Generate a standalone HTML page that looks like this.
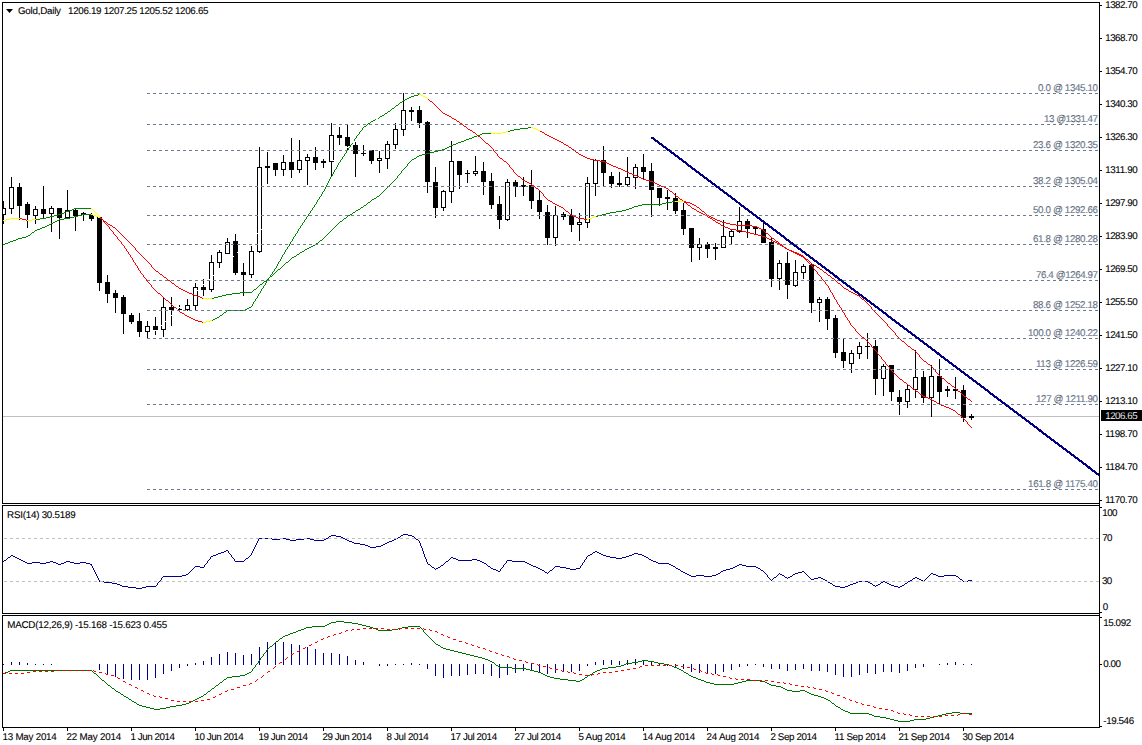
<!DOCTYPE html><html><head><meta charset="utf-8"><title>Gold Daily</title>
<style>html,body{margin:0;padding:0;background:#fff;overflow:hidden}svg{display:block}text{font-family:"Liberation Sans",sans-serif;font-size:9.8px;stroke:#000;stroke-width:.1px}</style></head><body>
<svg width="1142" height="745" viewBox="0 0 1142 745">
<rect width="1142" height="745" fill="#fff"/>
<g shape-rendering="crispEdges">
<line x1="3" x2="1099" y1="416.5" y2="416.5" stroke="#c0c0c0" stroke-width="1"/>
<clipPath id="mc"><rect x="3" y="3" width="1096" height="500"/></clipPath>
<g fill="#000" clip-path="url(#mc)">
<rect x="3" y="201" width="1" height="23"/>
<rect x="1" y="208" width="5" height="7"/>
<rect x="2" y="209" width="3" height="5" fill="#fff"/>
<rect x="11" y="177" width="1" height="37"/>
<rect x="9" y="187" width="5" height="22"/>
<rect x="10" y="188" width="3" height="20" fill="#fff"/>
<rect x="19" y="183" width="1" height="37"/>
<rect x="17" y="187" width="5" height="19"/>
<rect x="27" y="202" width="1" height="26"/>
<rect x="25" y="204" width="5" height="11"/>
<rect x="35" y="206" width="1" height="18"/>
<rect x="33" y="209" width="5" height="7"/>
<rect x="34" y="210" width="3" height="5" fill="#fff"/>
<rect x="43" y="186" width="1" height="33"/>
<rect x="41" y="209" width="5" height="5"/>
<rect x="51" y="206" width="1" height="26"/>
<rect x="49" y="208" width="5" height="6"/>
<rect x="50" y="209" width="3" height="4" fill="#fff"/>
<rect x="59" y="208" width="1" height="31"/>
<rect x="57" y="208" width="5" height="10"/>
<rect x="67" y="190" width="1" height="28"/>
<rect x="65" y="210" width="5" height="8"/>
<rect x="66" y="211" width="3" height="6" fill="#fff"/>
<rect x="75" y="209" width="1" height="22"/>
<rect x="73" y="210" width="5" height="6"/>
<rect x="83" y="212" width="1" height="9"/>
<rect x="81" y="213" width="5" height="2"/>
<rect x="91" y="213" width="1" height="8"/>
<rect x="89" y="215" width="5" height="4"/>
<rect x="99" y="216" width="1" height="75"/>
<rect x="97" y="217" width="5" height="66"/>
<rect x="107" y="275" width="1" height="28"/>
<rect x="105" y="282" width="5" height="12"/>
<rect x="115" y="290" width="1" height="23"/>
<rect x="113" y="293" width="5" height="5"/>
<rect x="123" y="295" width="1" height="39"/>
<rect x="121" y="297" width="5" height="17"/>
<rect x="131" y="313" width="1" height="11"/>
<rect x="129" y="315" width="5" height="7"/>
<rect x="139" y="313" width="1" height="24"/>
<rect x="137" y="321" width="5" height="11"/>
<rect x="147" y="321" width="1" height="18"/>
<rect x="145" y="326" width="5" height="6"/>
<rect x="146" y="327" width="3" height="4" fill="#fff"/>
<rect x="155" y="317" width="1" height="18"/>
<rect x="153" y="326" width="5" height="4"/>
<rect x="163" y="298" width="1" height="39"/>
<rect x="161" y="307" width="5" height="23"/>
<rect x="162" y="308" width="3" height="21" fill="#fff"/>
<rect x="171" y="297" width="1" height="29"/>
<rect x="169" y="307" width="5" height="3"/>
<rect x="179" y="305" width="1" height="7"/>
<rect x="177" y="309" width="5" height="1"/>
<rect x="187" y="299" width="1" height="12"/>
<rect x="185" y="305" width="5" height="5"/>
<rect x="186" y="306" width="3" height="3" fill="#fff"/>
<rect x="195" y="283" width="1" height="27"/>
<rect x="193" y="287" width="5" height="19"/>
<rect x="194" y="288" width="3" height="17" fill="#fff"/>
<rect x="203" y="279" width="1" height="17"/>
<rect x="201" y="287" width="5" height="3"/>
<rect x="211" y="255" width="1" height="37"/>
<rect x="209" y="262" width="5" height="28"/>
<rect x="210" y="263" width="3" height="26" fill="#fff"/>
<rect x="219" y="250" width="1" height="18"/>
<rect x="217" y="252" width="5" height="11"/>
<rect x="218" y="253" width="3" height="9" fill="#fff"/>
<rect x="227" y="238" width="1" height="16"/>
<rect x="225" y="242" width="5" height="12"/>
<rect x="226" y="243" width="3" height="10" fill="#fff"/>
<rect x="235" y="234" width="1" height="41"/>
<rect x="233" y="241" width="5" height="32"/>
<rect x="243" y="263" width="1" height="33"/>
<rect x="241" y="272" width="5" height="3"/>
<rect x="251" y="246" width="1" height="32"/>
<rect x="249" y="251" width="5" height="24"/>
<rect x="250" y="252" width="3" height="22" fill="#fff"/>
<rect x="259" y="147" width="1" height="106"/>
<rect x="257" y="167" width="5" height="85"/>
<rect x="258" y="168" width="3" height="83" fill="#fff"/>
<rect x="267" y="152" width="1" height="32"/>
<rect x="265" y="166" width="5" height="2"/>
<rect x="275" y="163" width="1" height="13"/>
<rect x="273" y="163" width="5" height="7"/>
<rect x="283" y="155" width="1" height="21"/>
<rect x="281" y="162" width="5" height="8"/>
<rect x="282" y="163" width="3" height="6" fill="#fff"/>
<rect x="291" y="138" width="1" height="40"/>
<rect x="289" y="162" width="5" height="8"/>
<rect x="299" y="140" width="1" height="33"/>
<rect x="297" y="160" width="5" height="10"/>
<rect x="298" y="161" width="3" height="8" fill="#fff"/>
<rect x="307" y="154" width="1" height="31"/>
<rect x="305" y="157" width="5" height="4"/>
<rect x="306" y="158" width="3" height="2" fill="#fff"/>
<rect x="315" y="147" width="1" height="23"/>
<rect x="313" y="157" width="5" height="6"/>
<rect x="323" y="159" width="1" height="9"/>
<rect x="321" y="161" width="5" height="2"/>
<rect x="331" y="123" width="1" height="53"/>
<rect x="329" y="135" width="5" height="27"/>
<rect x="330" y="136" width="3" height="25" fill="#fff"/>
<rect x="339" y="127" width="1" height="18"/>
<rect x="337" y="135" width="5" height="3"/>
<rect x="347" y="125" width="1" height="26"/>
<rect x="345" y="137" width="5" height="9"/>
<rect x="355" y="142" width="1" height="35"/>
<rect x="353" y="145" width="5" height="9"/>
<rect x="363" y="145" width="1" height="11"/>
<rect x="361" y="153" width="5" height="1"/>
<rect x="371" y="150" width="1" height="14"/>
<rect x="369" y="150" width="5" height="11"/>
<rect x="379" y="151" width="1" height="22"/>
<rect x="377" y="158" width="5" height="3"/>
<rect x="378" y="159" width="3" height="1" fill="#fff"/>
<rect x="387" y="141" width="1" height="28"/>
<rect x="385" y="144" width="5" height="15"/>
<rect x="386" y="145" width="3" height="13" fill="#fff"/>
<rect x="395" y="123" width="1" height="26"/>
<rect x="393" y="129" width="5" height="16"/>
<rect x="394" y="130" width="3" height="14" fill="#fff"/>
<rect x="403" y="93" width="1" height="43"/>
<rect x="401" y="110" width="5" height="20"/>
<rect x="402" y="111" width="3" height="18" fill="#fff"/>
<rect x="411" y="107" width="1" height="14"/>
<rect x="409" y="110" width="5" height="2"/>
<rect x="419" y="106" width="1" height="22"/>
<rect x="417" y="110" width="5" height="13"/>
<rect x="427" y="121" width="1" height="72"/>
<rect x="425" y="122" width="5" height="60"/>
<rect x="435" y="167" width="1" height="51"/>
<rect x="433" y="182" width="5" height="26"/>
<rect x="443" y="190" width="1" height="21"/>
<rect x="441" y="191" width="5" height="17"/>
<rect x="442" y="192" width="3" height="15" fill="#fff"/>
<rect x="451" y="141" width="1" height="62"/>
<rect x="449" y="161" width="5" height="31"/>
<rect x="450" y="162" width="3" height="29" fill="#fff"/>
<rect x="459" y="161" width="1" height="28"/>
<rect x="457" y="161" width="5" height="14"/>
<rect x="467" y="170" width="1" height="13"/>
<rect x="465" y="173" width="5" height="1"/>
<rect x="475" y="156" width="1" height="20"/>
<rect x="473" y="171" width="5" height="3"/>
<rect x="474" y="172" width="3" height="1" fill="#fff"/>
<rect x="483" y="162" width="1" height="33"/>
<rect x="481" y="171" width="5" height="11"/>
<rect x="491" y="173" width="1" height="36"/>
<rect x="489" y="181" width="5" height="24"/>
<rect x="499" y="196" width="1" height="33"/>
<rect x="497" y="204" width="5" height="16"/>
<rect x="507" y="179" width="1" height="42"/>
<rect x="505" y="182" width="5" height="38"/>
<rect x="506" y="183" width="3" height="36" fill="#fff"/>
<rect x="515" y="180" width="1" height="17"/>
<rect x="513" y="182" width="5" height="5"/>
<rect x="523" y="177" width="1" height="19"/>
<rect x="521" y="185" width="5" height="2"/>
<rect x="531" y="170" width="1" height="39"/>
<rect x="529" y="185" width="5" height="16"/>
<rect x="539" y="191" width="1" height="28"/>
<rect x="537" y="200" width="5" height="12"/>
<rect x="547" y="205" width="1" height="40"/>
<rect x="545" y="212" width="5" height="26"/>
<rect x="555" y="206" width="1" height="40"/>
<rect x="553" y="215" width="5" height="23"/>
<rect x="554" y="216" width="3" height="21" fill="#fff"/>
<rect x="563" y="212" width="1" height="8"/>
<rect x="561" y="214" width="5" height="3"/>
<rect x="571" y="209" width="1" height="23"/>
<rect x="569" y="215" width="5" height="10"/>
<rect x="579" y="213" width="1" height="28"/>
<rect x="577" y="222" width="5" height="3"/>
<rect x="578" y="223" width="3" height="1" fill="#fff"/>
<rect x="587" y="177" width="1" height="51"/>
<rect x="585" y="183" width="5" height="40"/>
<rect x="586" y="184" width="3" height="38" fill="#fff"/>
<rect x="595" y="159" width="1" height="37"/>
<rect x="593" y="160" width="5" height="24"/>
<rect x="594" y="161" width="3" height="22" fill="#fff"/>
<rect x="603" y="146" width="1" height="41"/>
<rect x="601" y="160" width="5" height="13"/>
<rect x="611" y="172" width="1" height="16"/>
<rect x="609" y="176" width="5" height="8"/>
<rect x="619" y="172" width="1" height="15"/>
<rect x="617" y="183" width="5" height="2"/>
<rect x="627" y="157" width="1" height="30"/>
<rect x="625" y="177" width="5" height="8"/>
<rect x="626" y="178" width="3" height="6" fill="#fff"/>
<rect x="635" y="164" width="1" height="25"/>
<rect x="633" y="167" width="5" height="11"/>
<rect x="634" y="168" width="3" height="9" fill="#fff"/>
<rect x="643" y="154" width="1" height="25"/>
<rect x="641" y="167" width="5" height="5"/>
<rect x="651" y="163" width="1" height="54"/>
<rect x="649" y="171" width="5" height="19"/>
<rect x="659" y="188" width="1" height="18"/>
<rect x="657" y="188" width="5" height="10"/>
<rect x="667" y="190" width="1" height="20"/>
<rect x="665" y="197" width="5" height="2"/>
<rect x="675" y="193" width="1" height="21"/>
<rect x="673" y="198" width="5" height="13"/>
<rect x="683" y="203" width="1" height="32"/>
<rect x="681" y="210" width="5" height="19"/>
<rect x="691" y="228" width="1" height="34"/>
<rect x="689" y="228" width="5" height="20"/>
<rect x="699" y="238" width="1" height="22"/>
<rect x="697" y="244" width="5" height="4"/>
<rect x="698" y="245" width="3" height="2" fill="#fff"/>
<rect x="707" y="242" width="1" height="16"/>
<rect x="705" y="244" width="5" height="5"/>
<rect x="715" y="243" width="1" height="17"/>
<rect x="713" y="247" width="5" height="2"/>
<rect x="723" y="220" width="1" height="28"/>
<rect x="721" y="236" width="5" height="12"/>
<rect x="722" y="237" width="3" height="10" fill="#fff"/>
<rect x="731" y="229" width="1" height="15"/>
<rect x="729" y="231" width="5" height="6"/>
<rect x="730" y="232" width="3" height="4" fill="#fff"/>
<rect x="739" y="207" width="1" height="26"/>
<rect x="737" y="221" width="5" height="11"/>
<rect x="738" y="222" width="3" height="9" fill="#fff"/>
<rect x="747" y="219" width="1" height="19"/>
<rect x="745" y="221" width="5" height="8"/>
<rect x="755" y="226" width="1" height="8"/>
<rect x="753" y="227" width="5" height="2"/>
<rect x="763" y="222" width="1" height="21"/>
<rect x="761" y="229" width="5" height="14"/>
<rect x="771" y="237" width="1" height="50"/>
<rect x="769" y="242" width="5" height="37"/>
<rect x="779" y="260" width="1" height="30"/>
<rect x="777" y="263" width="5" height="16"/>
<rect x="778" y="264" width="3" height="14" fill="#fff"/>
<rect x="787" y="252" width="1" height="47"/>
<rect x="785" y="263" width="5" height="22"/>
<rect x="795" y="260" width="1" height="27"/>
<rect x="793" y="272" width="5" height="14"/>
<rect x="794" y="273" width="3" height="12" fill="#fff"/>
<rect x="803" y="264" width="1" height="15"/>
<rect x="801" y="266" width="5" height="7"/>
<rect x="802" y="267" width="3" height="5" fill="#fff"/>
<rect x="811" y="264" width="1" height="49"/>
<rect x="809" y="265" width="5" height="38"/>
<rect x="819" y="297" width="1" height="25"/>
<rect x="817" y="299" width="5" height="4"/>
<rect x="818" y="300" width="3" height="2" fill="#fff"/>
<rect x="827" y="297" width="1" height="33"/>
<rect x="825" y="299" width="5" height="20"/>
<rect x="835" y="315" width="1" height="43"/>
<rect x="833" y="318" width="5" height="35"/>
<rect x="843" y="338" width="1" height="30"/>
<rect x="841" y="352" width="5" height="9"/>
<rect x="851" y="350" width="1" height="23"/>
<rect x="849" y="353" width="5" height="11"/>
<rect x="850" y="354" width="3" height="9" fill="#fff"/>
<rect x="859" y="342" width="1" height="17"/>
<rect x="857" y="346" width="5" height="8"/>
<rect x="858" y="347" width="3" height="6" fill="#fff"/>
<rect x="867" y="333" width="1" height="26"/>
<rect x="865" y="346" width="5" height="1"/>
<rect x="875" y="340" width="1" height="55"/>
<rect x="873" y="346" width="5" height="33"/>
<rect x="883" y="364" width="1" height="32"/>
<rect x="881" y="366" width="5" height="13"/>
<rect x="882" y="367" width="3" height="11" fill="#fff"/>
<rect x="891" y="365" width="1" height="36"/>
<rect x="889" y="365" width="5" height="27"/>
<rect x="899" y="390" width="1" height="25"/>
<rect x="897" y="397" width="5" height="5"/>
<rect x="907" y="384" width="1" height="24"/>
<rect x="905" y="389" width="5" height="13"/>
<rect x="906" y="390" width="3" height="11" fill="#fff"/>
<rect x="915" y="350" width="1" height="48"/>
<rect x="913" y="377" width="5" height="13"/>
<rect x="914" y="378" width="3" height="11" fill="#fff"/>
<rect x="923" y="371" width="1" height="32"/>
<rect x="921" y="377" width="5" height="21"/>
<rect x="931" y="365" width="1" height="52"/>
<rect x="929" y="376" width="5" height="22"/>
<rect x="930" y="377" width="3" height="20" fill="#fff"/>
<rect x="939" y="359" width="1" height="46"/>
<rect x="937" y="376" width="5" height="16"/>
<rect x="947" y="386" width="1" height="11"/>
<rect x="945" y="389" width="5" height="2"/>
<rect x="955" y="377" width="1" height="22"/>
<rect x="953" y="389" width="5" height="2"/>
<rect x="963" y="385" width="1" height="37"/>
<rect x="961" y="390" width="5" height="28"/>
<rect x="971" y="414" width="1" height="6"/>
<rect x="969" y="416" width="5" height="2"/>
</g>
<path d="M528 127.5h4M520 128.5h8M514 129.5h6M510 130.5h4M507 131.5h3M482 133.5h10M480 134.5h2M477 135.5h3M474 136.5h3M472 137.5h2M469 138.5h3M466 139.5h3M464 140.5h2M461 141.5h3M458 142.5h3M456 143.5h2M453 144.5h3M451 145.5h2M449 146.5h2M447 147.5h2M445 148.5h2M442 149.5h3M438 150.5h4M434 151.5h4M430 152.5h4M426 153.5h4M422 154.5h4M419 155.5h3M417 156.5h2M416 157.5h1M414 158.5h2M412 159.5h2M411 160.5h1M410 161.5h1M409 162.5h1M408 163.5h1M407 164.5h1M407 165.5h1M406 166.5h1M405 167.5h1M404 168.5h1M403 169.5h1M402 170.5h1M401 171.5h1M401 172.5h1M400 173.5h1M399 174.5h1M398 175.5h1M397 176.5h1M397 177.5h1M396 178.5h1M395 179.5h1M394 180.5h1M393 181.5h1M392 182.5h1M391 183.5h1M390 184.5h1M389 185.5h1M388 186.5h1M387 187.5h1M386 188.5h1M385 189.5h1M384 190.5h1M383 191.5h1M382 192.5h1M381 193.5h1M380 194.5h1M379 195.5h1M377 196.5h2M376 197.5h1M374 198.5h2M372 199.5h2M371 200.5h1M370 201.5h1M368 202.5h2M367 203.5h1M366 204.5h1M364 205.5h2M363 206.5h1M361 207.5h2M360 208.5h1M358 209.5h2M356 210.5h2M355 211.5h1M353 212.5h2M352 213.5h1M82 214.5h10M350 214.5h2M78 215.5h4M348 215.5h2M74 216.5h4M347 216.5h1M70 217.5h4M346 217.5h1M64 218.5h6M344 218.5h2M59 219.5h5M343 219.5h1M57 220.5h2M342 220.5h1M55 221.5h2M340 221.5h2M53 222.5h2M339 222.5h1M51 223.5h2M338 223.5h1M49 224.5h2M337 224.5h1M47 225.5h2M336 225.5h1M45 226.5h2M335 226.5h1M42 227.5h3M334 227.5h1M40 228.5h2M333 228.5h1M37 229.5h3M332 229.5h1M35 230.5h2M331 230.5h1M34 231.5h1M330 231.5h1M32 232.5h2M329 232.5h1M31 233.5h1M328 233.5h1M30 234.5h1M327 234.5h1M28 235.5h2M326 235.5h1M26 236.5h2M325 236.5h1M22 237.5h4M324 237.5h1M18 238.5h4M323 238.5h1M16 239.5h2M322 239.5h1M13 240.5h3M320 240.5h2M10 241.5h3M319 241.5h1M8 242.5h2M318 242.5h1M5 243.5h3M316 243.5h2M3 244.5h2M315 244.5h1M313 245.5h2M311 246.5h2M309 247.5h2M307 248.5h2M305 249.5h2M304 250.5h1M302 251.5h2M300 252.5h2M299 253.5h1M297 254.5h2M296 255.5h1M294 256.5h2M292 257.5h2M291 258.5h1M290 259.5h1M289 260.5h1M288 261.5h1M286 262.5h2M285 263.5h1M284 264.5h1M283 265.5h1M282 266.5h1M281 267.5h1M280 268.5h1M278 269.5h2M277 270.5h1M276 271.5h1M275 272.5h1M274 273.5h1M273 274.5h1M272 275.5h1M270 276.5h2M269 277.5h1M268 278.5h1M267 279.5h1M266 280.5h1M264 281.5h2M263 282.5h1M262 283.5h1M260 284.5h2M259 285.5h1M258 286.5h1M257 287.5h1M256 288.5h1M254 289.5h2M253 290.5h1M252 291.5h1M240 292.5h12M232 293.5h8M226 294.5h6M222 295.5h4M218 296.5h4M214 297.5h4M211 298.5h3" stroke="#008400" stroke-width="1" fill="none"/>
<path d="M539 130.5h1M540 131.5h2M542 132.5h2M544 133.5h1M545 134.5h2M547 135.5h2M549 136.5h2M551 137.5h2M553 138.5h2M555 139.5h2M557 140.5h2M559 141.5h2M561 142.5h2M563 143.5h1M564 144.5h2M566 145.5h2M568 146.5h1M569 147.5h2M571 148.5h1M572 149.5h2M574 150.5h1M575 151.5h1M576 152.5h2M578 153.5h1M579 154.5h2M581 155.5h2M583 156.5h2M585 157.5h2M587 158.5h3M590 159.5h4M594 160.5h6M600 161.5h5M605 162.5h2M607 163.5h2M609 164.5h2M611 165.5h2M613 166.5h3M616 167.5h2M618 168.5h3M621 169.5h2M623 170.5h2M625 171.5h2M627 172.5h2M629 173.5h3M632 174.5h2M634 175.5h3M637 176.5h2M639 177.5h2M641 178.5h2M643 179.5h3M646 180.5h4M650 181.5h3M653 182.5h2M655 183.5h2M657 184.5h2M659 185.5h2M661 186.5h3M664 187.5h2M666 188.5h2M668 189.5h1M669 190.5h1M670 191.5h2M672 192.5h1M673 193.5h1M674 194.5h1M675 195.5h1M676 196.5h2M678 197.5h1M679 198.5h1M680 199.5h2M682 200.5h1M683 201.5h3M686 202.5h4M690 203.5h2M692 204.5h2M694 205.5h2M696 206.5h1M697 207.5h2M699 208.5h1M700 209.5h1M701 210.5h1M702 211.5h2M704 212.5h1M705 213.5h1M706 214.5h1M707 215.5h2M709 216.5h2M99 217.5h1M711 217.5h2M100 218.5h2M713 218.5h2M102 219.5h1M715 219.5h2M103 220.5h1M717 220.5h3M104 221.5h2M720 221.5h2M106 222.5h1M722 222.5h4M107 223.5h1M726 223.5h4M108 224.5h2M730 224.5h6M110 225.5h2M736 225.5h16M112 226.5h1M752 226.5h5M113 227.5h2M757 227.5h2M115 228.5h1M759 228.5h2M116 229.5h1M761 229.5h2M117 230.5h1M763 230.5h1M118 231.5h1M764 231.5h1M119 232.5h1M765 232.5h1M120 233.5h1M766 233.5h2M121 234.5h1M768 234.5h1M122 235.5h1M769 235.5h1M123 236.5h1M770 236.5h1M124 237.5h1M771 237.5h1M125 238.5h1M772 238.5h2M126 239.5h1M774 239.5h1M127 240.5h1M775 240.5h1M128 241.5h1M776 241.5h2M129 242.5h1M778 242.5h1M130 243.5h1M779 243.5h1M131 244.5h1M780 244.5h2M132 245.5h1M782 245.5h1M133 246.5h1M783 246.5h1M134 247.5h1M784 247.5h2M135 248.5h1M786 248.5h1M135 249.5h1M787 249.5h2M136 250.5h1M789 250.5h3M137 251.5h1M792 251.5h2M138 252.5h1M794 252.5h3M139 253.5h1M797 253.5h2M140 254.5h1M799 254.5h2M141 255.5h1M801 255.5h2M142 256.5h1M803 256.5h1M143 257.5h1M804 257.5h1M144 258.5h1M805 258.5h1M145 259.5h1M806 259.5h2M146 260.5h1M808 260.5h1M147 261.5h1M809 261.5h1M148 262.5h1M810 262.5h1M149 263.5h1M811 263.5h1M150 264.5h1M812 264.5h2M151 265.5h1M814 265.5h2M151 266.5h1M816 266.5h1M152 267.5h1M817 267.5h2M153 268.5h1M819 268.5h1M154 269.5h1M820 269.5h2M155 270.5h1M822 270.5h1M156 271.5h2M823 271.5h1M158 272.5h1M824 272.5h2M159 273.5h1M826 273.5h1M160 274.5h2M827 274.5h1M162 275.5h1M828 275.5h2M163 276.5h1M830 276.5h1M164 277.5h2M831 277.5h1M166 278.5h1M832 278.5h2M167 279.5h1M834 279.5h1M168 280.5h2M835 280.5h1M170 281.5h1M836 281.5h1M171 282.5h1M837 282.5h1M172 283.5h2M838 283.5h2M174 284.5h1M840 284.5h1M175 285.5h1M841 285.5h1M176 286.5h2M842 286.5h1M178 287.5h1M843 287.5h1M179 288.5h2M844 288.5h2M181 289.5h2M846 289.5h2M183 290.5h2M848 290.5h1M185 291.5h2M849 291.5h2M187 292.5h2M851 292.5h2M189 293.5h3M853 293.5h2M192 294.5h2M855 294.5h2M194 295.5h3M857 295.5h2M197 296.5h3M859 296.5h1M200 297.5h2M860 297.5h1M202 298.5h2M861 298.5h1M862 299.5h2M864 300.5h1M865 301.5h1M866 302.5h1M867 303.5h1M868 304.5h1M869 305.5h1M870 306.5h1M871 307.5h1M871 308.5h1M872 309.5h1M873 310.5h1M874 311.5h1M875 312.5h1M876 313.5h1M877 314.5h1M878 315.5h1M879 316.5h1M880 317.5h1M881 318.5h1M882 319.5h1M883 320.5h1M884 321.5h1M885 322.5h1M886 323.5h1M887 324.5h1M887 325.5h1M888 326.5h1M889 327.5h1M890 328.5h1M891 329.5h1M892 330.5h1M893 331.5h1M894 332.5h1M895 333.5h1M895 334.5h1M896 335.5h1M897 336.5h1M898 337.5h1M899 338.5h1M900 339.5h1M901 340.5h1M902 341.5h2M904 342.5h1M905 343.5h1M906 344.5h1M907 345.5h1M908 346.5h2M910 347.5h1M911 348.5h1M912 349.5h2M914 350.5h1M915 351.5h1M916 352.5h1M917 353.5h1M918 354.5h1M919 355.5h1M919 356.5h1M920 357.5h1M921 358.5h1M922 359.5h1M923 360.5h1M924 361.5h2M926 362.5h1M927 363.5h1M928 364.5h2M930 365.5h1M931 366.5h1M932 367.5h1M933 368.5h1M934 369.5h1M935 370.5h1M935 371.5h1M936 372.5h1M937 373.5h1M938 374.5h1M939 375.5h1M940 376.5h1M941 377.5h1M942 378.5h2M944 379.5h1M945 380.5h1M946 381.5h1M947 382.5h1M948 383.5h2M950 384.5h1M951 385.5h1M952 386.5h2M954 387.5h1M955 388.5h1M956 389.5h1M957 390.5h1M958 391.5h2M960 392.5h1M961 393.5h1M962 394.5h1M963 395.5h1M964 396.5h2M966 397.5h1M967 398.5h1M968 399.5h2M970 400.5h1M971 401.5h1" stroke="#ff0000" stroke-width="1" fill="none"/>
<path d="M531 127.5h2M533 128.5h3M536 129.5h2M538 130.5h2M506 131.5h2M502 132.5h4M491 133.5h11M91 214.5h2M93 215.5h3M96 216.5h2M98 217.5h2M203 298.5h9" stroke="#ffff00" stroke-width="1" fill="none"/>
<path d="M418 94.5h2M414 95.5h4M411 96.5h3M409 97.5h2M407 98.5h2M405 99.5h2M403 100.5h2M402 101.5h1M400 102.5h2M399 103.5h1M398 104.5h1M396 105.5h2M395 106.5h1M394 107.5h1M392 108.5h2M391 109.5h1M390 110.5h1M388 111.5h2M387 112.5h1M385 113.5h2M384 114.5h1M382 115.5h2M380 116.5h2M379 117.5h1M377 118.5h2M375 119.5h2M373 120.5h2M371 121.5h2M370 122.5h1M368 123.5h2M367 124.5h1M366 125.5h1M364 126.5h2M363 127.5h1M362 128.5h1M362 129.5h1M361 130.5h1M360 131.5h1M359 132.5h1M359 133.5h1M358 134.5h1M357 135.5h1M356 136.5h1M356 137.5h1M355 138.5h1M354 139.5h1M354 140.5h1M353 141.5h1M352 142.5h1M352 143.5h1M351 144.5h1M350 145.5h1M350 146.5h1M349 147.5h1M348 148.5h1M348 149.5h1M347 150.5h1M346 151.5h1M346 152.5h1M345 153.5h1M344 154.5h1M344 155.5h1M343 156.5h1M342 157.5h1M342 158.5h1M341 159.5h1M340 160.5h1M340 161.5h1M339 162.5h1M338 163.5h1M338 164.5h1M337 165.5h1M337 166.5h1M336 167.5h1M336 168.5h1M335 169.5h1M334 170.5h1M334 171.5h1M333 172.5h1M333 173.5h1M332 174.5h1M332 175.5h1M331 176.5h1M330 177.5h1M330 178.5h1M329 179.5h1M329 180.5h1M328 181.5h1M328 182.5h1M327 183.5h1M327 184.5h1M326 185.5h1M326 186.5h1M325 187.5h1M325 188.5h1M324 189.5h1M324 190.5h1M323 191.5h1M322 192.5h1M322 193.5h1M321 194.5h1M321 195.5h1M320 196.5h1M319 197.5h1M319 198.5h1M318 199.5h1M317 200.5h1M317 201.5h1M672 201.5h4M316 202.5h1M666 202.5h6M316 203.5h1M662 203.5h4M315 204.5h1M642 204.5h20M314 205.5h1M638 205.5h4M314 206.5h1M634 206.5h4M313 207.5h1M632 207.5h2M74 208.5h18M312 208.5h1M629 208.5h3M72 209.5h2M312 209.5h1M626 209.5h3M69 210.5h3M311 210.5h1M622 210.5h4M66 211.5h3M310 211.5h1M616 211.5h6M64 212.5h2M310 212.5h1M610 212.5h6M61 213.5h3M309 213.5h1M606 213.5h4M58 214.5h3M308 214.5h1M602 214.5h4M54 215.5h4M308 215.5h1M598 215.5h4M50 216.5h4M307 216.5h1M595 216.5h3M46 217.5h4M306 217.5h1M40 218.5h6M306 218.5h1M35 219.5h5M305 219.5h1M304 220.5h1M304 221.5h1M303 222.5h1M302 223.5h1M302 224.5h1M301 225.5h1M300 226.5h1M300 227.5h1M299 228.5h1M298 229.5h1M298 230.5h1M297 231.5h1M297 232.5h1M296 233.5h1M295 234.5h1M295 235.5h1M294 236.5h1M293 237.5h1M293 238.5h1M292 239.5h1M292 240.5h1M291 241.5h1M290 242.5h1M290 243.5h1M289 244.5h1M289 245.5h1M288 246.5h1M287 247.5h1M287 248.5h1M286 249.5h1M285 250.5h1M285 251.5h1M284 252.5h1M284 253.5h1M283 254.5h1M282 255.5h1M282 256.5h1M281 257.5h1M281 258.5h1M280 259.5h1M280 260.5h1M279 261.5h1M278 262.5h1M278 263.5h1M277 264.5h1M277 265.5h1M276 266.5h1M276 267.5h1M275 268.5h1M274 269.5h1M274 270.5h1M273 271.5h1M272 272.5h1M272 273.5h1M271 274.5h1M270 275.5h1M270 276.5h1M269 277.5h1M268 278.5h1M268 279.5h1M267 280.5h1M266 281.5h1M266 282.5h1M265 283.5h1M265 284.5h1M264 285.5h1M263 286.5h1M263 287.5h1M262 288.5h1M261 289.5h1M261 290.5h1M260 291.5h1M260 292.5h1M259 293.5h1M258 294.5h1M258 295.5h1M257 296.5h1M257 297.5h1M256 298.5h1M255 299.5h1M255 300.5h1M254 301.5h1M253 302.5h1M253 303.5h1M252 304.5h1M252 305.5h1M251 306.5h1M249 307.5h2M247 308.5h2M245 309.5h2M227 310.5h18M226 311.5h1M224 312.5h2M223 313.5h1M222 314.5h1M220 315.5h2M219 316.5h1M217 317.5h2M215 318.5h2M213 319.5h2M211 320.5h2" stroke="#008400" stroke-width="1" fill="none"/>
<path d="M427 98.5h1M428 99.5h1M429 100.5h1M430 101.5h2M432 102.5h1M433 103.5h1M434 104.5h1M435 105.5h1M436 106.5h1M437 107.5h1M438 108.5h1M439 109.5h1M440 110.5h1M441 111.5h1M442 112.5h1M443 113.5h2M445 114.5h2M447 115.5h2M449 116.5h2M451 117.5h1M452 118.5h2M454 119.5h2M456 120.5h1M457 121.5h2M459 122.5h1M460 123.5h2M462 124.5h1M463 125.5h1M464 126.5h2M466 127.5h1M467 128.5h1M468 129.5h2M470 130.5h2M472 131.5h1M473 132.5h2M475 133.5h1M476 134.5h1M477 135.5h1M478 136.5h2M480 137.5h1M481 138.5h1M482 139.5h1M483 140.5h1M484 141.5h1M485 142.5h1M486 143.5h2M488 144.5h1M489 145.5h1M490 146.5h1M491 147.5h1M492 148.5h1M493 149.5h1M493 150.5h1M494 151.5h1M495 152.5h1M496 153.5h1M497 154.5h1M497 155.5h1M498 156.5h1M499 157.5h1M500 158.5h2M502 159.5h1M503 160.5h1M504 161.5h2M506 162.5h1M507 163.5h1M508 164.5h1M509 165.5h1M509 166.5h1M510 167.5h1M511 168.5h1M512 169.5h1M513 170.5h1M513 171.5h1M514 172.5h1M515 173.5h1M516 174.5h1M517 175.5h1M518 176.5h2M520 177.5h1M521 178.5h1M522 179.5h1M523 180.5h2M525 181.5h2M527 182.5h2M529 183.5h2M531 184.5h1M532 185.5h2M534 186.5h1M535 187.5h1M536 188.5h2M538 189.5h1M539 190.5h1M540 191.5h1M541 192.5h1M542 193.5h1M543 194.5h1M543 195.5h1M544 196.5h1M545 197.5h1M546 198.5h1M547 199.5h1M548 200.5h2M550 201.5h2M683 201.5h1M552 202.5h1M684 202.5h2M553 203.5h2M686 203.5h1M555 204.5h2M687 204.5h1M557 205.5h2M688 205.5h2M559 206.5h2M690 206.5h1M561 207.5h2M691 207.5h1M563 208.5h1M692 208.5h2M564 209.5h1M694 209.5h2M565 210.5h1M696 210.5h1M566 211.5h2M697 211.5h2M568 212.5h1M699 212.5h2M569 213.5h1M701 213.5h2M570 214.5h1M703 214.5h2M571 215.5h2M705 215.5h2M99 216.5h1M573 216.5h3M707 216.5h1M100 217.5h1M576 217.5h2M708 217.5h2M19 218.5h3M101 218.5h1M578 218.5h6M710 218.5h2M22 219.5h4M102 219.5h1M584 219.5h4M712 219.5h1M26 220.5h2M103 220.5h1M713 220.5h2M103 221.5h1M715 221.5h1M104 222.5h1M716 222.5h2M105 223.5h1M718 223.5h2M106 224.5h1M720 224.5h1M107 225.5h1M721 225.5h2M108 226.5h1M723 226.5h2M109 227.5h1M725 227.5h3M109 228.5h1M728 228.5h2M110 229.5h1M730 229.5h6M111 230.5h1M736 230.5h6M112 231.5h1M742 231.5h4M113 232.5h1M746 232.5h4M113 233.5h1M750 233.5h4M114 234.5h1M754 234.5h4M115 235.5h1M758 235.5h4M116 236.5h1M762 236.5h3M117 237.5h1M765 237.5h2M117 238.5h1M767 238.5h2M118 239.5h1M769 239.5h2M119 240.5h1M771 240.5h2M120 241.5h1M773 241.5h2M121 242.5h1M775 242.5h2M121 243.5h1M777 243.5h2M122 244.5h1M779 244.5h1M123 245.5h1M780 245.5h2M124 246.5h1M782 246.5h2M124 247.5h1M784 247.5h1M125 248.5h1M785 248.5h2M126 249.5h1M787 249.5h2M126 250.5h1M789 250.5h2M127 251.5h1M791 251.5h2M128 252.5h1M793 252.5h2M128 253.5h1M795 253.5h2M129 254.5h1M797 254.5h2M130 255.5h1M799 255.5h2M130 256.5h1M801 256.5h2M131 257.5h1M803 257.5h1M132 258.5h1M804 258.5h1M132 259.5h1M805 259.5h1M133 260.5h1M806 260.5h1M133 261.5h1M807 261.5h1M134 262.5h1M808 262.5h1M135 263.5h1M809 263.5h1M135 264.5h1M810 264.5h1M136 265.5h1M811 265.5h1M137 266.5h1M812 266.5h1M137 267.5h1M813 267.5h1M138 268.5h1M813 268.5h1M138 269.5h1M814 269.5h1M139 270.5h1M815 270.5h1M140 271.5h1M816 271.5h1M140 272.5h1M817 272.5h1M141 273.5h1M817 273.5h1M142 274.5h1M818 274.5h1M143 275.5h1M819 275.5h1M143 276.5h1M820 276.5h1M144 277.5h1M821 277.5h1M145 278.5h1M821 278.5h1M146 279.5h1M822 279.5h1M146 280.5h1M823 280.5h1M147 281.5h1M824 281.5h1M148 282.5h1M825 282.5h1M149 283.5h1M825 283.5h1M150 284.5h1M826 284.5h1M151 285.5h1M827 285.5h1M151 286.5h1M828 286.5h1M152 287.5h1M828 287.5h1M153 288.5h1M829 288.5h1M154 289.5h1M829 289.5h1M155 290.5h1M830 290.5h1M156 291.5h1M830 291.5h1M157 292.5h1M831 292.5h1M158 293.5h2M832 293.5h1M160 294.5h1M832 294.5h1M161 295.5h1M833 295.5h1M162 296.5h1M833 296.5h1M163 297.5h1M834 297.5h1M164 298.5h1M834 298.5h1M165 299.5h1M835 299.5h1M166 300.5h2M836 300.5h1M168 301.5h1M836 301.5h1M169 302.5h1M837 302.5h1M170 303.5h1M837 303.5h1M171 304.5h1M838 304.5h1M172 305.5h1M839 305.5h1M173 306.5h1M839 306.5h1M174 307.5h2M840 307.5h1M176 308.5h1M841 308.5h1M177 309.5h1M841 309.5h1M178 310.5h1M842 310.5h1M179 311.5h1M842 311.5h1M180 312.5h2M843 312.5h1M182 313.5h2M844 313.5h1M184 314.5h1M844 314.5h1M185 315.5h2M845 315.5h1M187 316.5h2M845 316.5h1M189 317.5h2M846 317.5h1M191 318.5h2M847 318.5h1M193 319.5h2M847 319.5h1M195 320.5h3M848 320.5h1M198 321.5h4M849 321.5h1M202 322.5h2M849 322.5h1M850 323.5h1M850 324.5h1M851 325.5h1M852 326.5h1M853 327.5h1M854 328.5h1M855 329.5h1M855 330.5h1M856 331.5h1M857 332.5h1M858 333.5h1M859 334.5h1M860 335.5h1M861 336.5h1M862 337.5h2M864 338.5h1M865 339.5h1M866 340.5h1M867 341.5h1M868 342.5h1M869 343.5h1M870 344.5h1M871 345.5h1M871 346.5h1M872 347.5h1M873 348.5h1M874 349.5h1M875 350.5h1M876 351.5h1M877 352.5h1M877 353.5h1M878 354.5h1M879 355.5h1M880 356.5h1M881 357.5h1M881 358.5h1M882 359.5h1M883 360.5h1M884 361.5h1M885 362.5h1M885 363.5h1M886 364.5h1M887 365.5h1M888 366.5h1M889 367.5h1M889 368.5h1M890 369.5h1M891 370.5h1M892 371.5h1M893 372.5h1M894 373.5h1M895 374.5h1M896 375.5h1M897 376.5h1M898 377.5h1M899 378.5h1M900 379.5h2M902 380.5h1M903 381.5h1M904 382.5h2M906 383.5h1M907 384.5h1M908 385.5h2M910 386.5h1M911 387.5h1M912 388.5h2M914 389.5h1M915 390.5h1M916 391.5h2M918 392.5h1M919 393.5h1M920 394.5h2M922 395.5h1M923 396.5h2M925 397.5h3M928 398.5h2M930 399.5h2M932 400.5h2M934 401.5h2M936 402.5h1M937 403.5h2M939 404.5h2M941 405.5h3M944 406.5h2M946 407.5h3M949 408.5h2M951 409.5h2M953 410.5h2M955 411.5h1M956 412.5h1M957 413.5h1M958 414.5h2M960 415.5h1M961 416.5h1M962 417.5h1M963 418.5h1M964 419.5h1M965 420.5h1M966 421.5h1M967 422.5h1M967 423.5h1M968 424.5h1M969 425.5h1M970 426.5h1M971 427.5h1" stroke="#ff0000" stroke-width="1" fill="none"/>
<path d="M419 94.5h2M421 95.5h2M423 96.5h2M425 97.5h2M427 98.5h1M675 201.5h9M91 208.5h1M92 209.5h1M93 210.5h1M94 211.5h1M95 212.5h1M96 213.5h1M97 214.5h1M98 215.5h1M99 216.5h1M594 216.5h2M592 217.5h2M10 218.5h10M589 218.5h3M6 219.5h4M32 219.5h4M587 219.5h2M3 220.5h3M27 220.5h5M210 320.5h2M206 321.5h4M203 322.5h3" stroke="#ffff00" stroke-width="1" fill="none"/>
<path d="M401 95.5h1M400 96.5h1M399 97.5h1M395 101.5h1M394 102.5h1M393 103.5h1M389 106.5h1M388 107.5h1M387 108.5h1M383 112.5h1M382 113.5h1M381 114.5h1M377 118.5h1M376 119.5h1M375 120.5h1M371 124.5h1M370 125.5h1M369 126.5h1M365 129.5h1M364 130.5h1M363 131.5h1M359 135.5h1M358 136.5h1M357 137.5h1M353 141.5h1M352 142.5h1M351 143.5h1M347 147.5h1M346 148.5h1M345 149.5h1M341 152.5h1M340 153.5h1M339 154.5h1M335 158.5h1M334 159.5h1M333 160.5h1M329 164.5h1M328 165.5h1M327 166.5h1M323 170.5h1M321 171.5h2M317 175.5h1M316 176.5h1M315 177.5h1M311 181.5h1M310 182.5h1M309 183.5h1M305 187.5h1M304 188.5h1M303 189.5h1M298 193.5h2M297 194.5h1M293 198.5h1M292 199.5h1M291 200.5h1M287 204.5h1M286 205.5h1M285 206.5h1M281 210.5h1M280 211.5h1M279 212.5h1M274 216.5h2M273 217.5h1M269 221.5h1M268 222.5h1M267 223.5h1M263 227.5h1M262 228.5h1M261 229.5h1M257 233.5h1M256 234.5h1M255 235.5h1M251 238.5h1M250 239.5h1M249 240.5h1M245 244.5h1M244 245.5h1M243 246.5h1M239 250.5h1M238 251.5h1M237 252.5h1M233 256.5h1M232 257.5h1M231 258.5h1M227 261.5h1M226 262.5h1M225 263.5h1M221 267.5h1M220 268.5h1M219 269.5h1M215 273.5h1M214 274.5h1M213 275.5h1M209 279.5h1M208 280.5h1M207 281.5h1M203 284.5h1M202 285.5h1M201 286.5h1M197 290.5h1M196 291.5h1M195 292.5h1M191 296.5h1M190 297.5h1M189 298.5h1M185 302.5h1M184 303.5h1M183 304.5h1M179 307.5h1M178 308.5h1M177 309.5h1M173 313.5h1M172 314.5h1M171 315.5h1M167 319.5h1M166 320.5h1M165 321.5h1M161 325.5h1M160 326.5h1M159 327.5h1M155 330.5h1M154 331.5h1M153 332.5h1M149 336.5h1M148 337.5h1M147 338.5h1" stroke="#fff" stroke-width="1" fill="none"/>
<line x1="147" x2="1099" y1="93.5" y2="93.5" stroke="#6a7b8f" stroke-width="1" stroke-dasharray="3 3"/>
<line x1="147" x2="1099" y1="124.5" y2="124.5" stroke="#6a7b8f" stroke-width="1" stroke-dasharray="3 3"/>
<line x1="147" x2="1099" y1="150.5" y2="150.5" stroke="#6a7b8f" stroke-width="1" stroke-dasharray="3 3"/>
<line x1="147" x2="1099" y1="186.5" y2="186.5" stroke="#6a7b8f" stroke-width="1" stroke-dasharray="3 3"/>
<line x1="147" x2="1099" y1="215.5" y2="215.5" stroke="#6a7b8f" stroke-width="1" stroke-dasharray="3 3"/>
<line x1="147" x2="1099" y1="244.5" y2="244.5" stroke="#6a7b8f" stroke-width="1" stroke-dasharray="3 3"/>
<line x1="147" x2="1099" y1="280.5" y2="280.5" stroke="#6a7b8f" stroke-width="1" stroke-dasharray="3 3"/>
<line x1="147" x2="1099" y1="310.5" y2="310.5" stroke="#6a7b8f" stroke-width="1" stroke-dasharray="3 3"/>
<line x1="147" x2="1099" y1="338.5" y2="338.5" stroke="#6a7b8f" stroke-width="1" stroke-dasharray="3 3"/>
<line x1="147" x2="1099" y1="369.5" y2="369.5" stroke="#6a7b8f" stroke-width="1" stroke-dasharray="3 3"/>
<line x1="147" x2="1099" y1="404.5" y2="404.5" stroke="#6a7b8f" stroke-width="1" stroke-dasharray="3 3"/>
<line x1="147" x2="1099" y1="489.5" y2="489.5" stroke="#6a7b8f" stroke-width="1" stroke-dasharray="3 3"/>
</g>
<text transform="translate(1098 91) scale(1 1) rotate(0.03)" textLength="60" text-anchor="end" fill="#7788a0" stroke="#7788a0">0.0 @ 1345.10</text>
<text transform="translate(1098 122) scale(1 1) rotate(0.03)" textLength="54" text-anchor="end" fill="#7788a0" stroke="#7788a0">13 @1331.47</text>
<text transform="translate(1098 148) scale(1 1) rotate(0.03)" textLength="65" text-anchor="end" fill="#7788a0" stroke="#7788a0">23.6 @ 1320.35</text>
<text transform="translate(1098 184) scale(1 1) rotate(0.03)" textLength="65" text-anchor="end" fill="#7788a0" stroke="#7788a0">38.2 @ 1305.04</text>
<text transform="translate(1098 213) scale(1 1) rotate(0.03)" textLength="65" text-anchor="end" fill="#7788a0" stroke="#7788a0">50.0 @ 1292.66</text>
<text transform="translate(1098 242) scale(1 1) rotate(0.03)" textLength="65" text-anchor="end" fill="#7788a0" stroke="#7788a0">61.8 @ 1280.28</text>
<text transform="translate(1098 278) scale(1 1) rotate(0.03)" textLength="62" text-anchor="end" fill="#7788a0" stroke="#7788a0">76.4 @1264.97</text>
<text transform="translate(1098 308) scale(1 1) rotate(0.03)" textLength="65" text-anchor="end" fill="#7788a0" stroke="#7788a0">88.6 @ 1252.18</text>
<text transform="translate(1098 336) scale(1 1) rotate(0.03)" textLength="70" text-anchor="end" fill="#7788a0" stroke="#7788a0">100.0 @ 1240.22</text>
<text transform="translate(1098 367) scale(1 1) rotate(0.03)" textLength="62" text-anchor="end" fill="#7788a0" stroke="#7788a0">113 @ 1226.59</text>
<text transform="translate(1098 402) scale(1 1) rotate(0.03)" textLength="62" text-anchor="end" fill="#7788a0" stroke="#7788a0">127 @ 1211.90</text>
<text transform="translate(1098 487) scale(1 1) rotate(0.03)" textLength="70" text-anchor="end" fill="#7788a0" stroke="#7788a0">161.8 @ 1175.40</text>
<line x1="651.5" y1="137.2" x2="1100" y2="475.8" stroke="#000080" stroke-width="2.2" clip-path="url(#mc)" shape-rendering="crispEdges"/>
<g shape-rendering="crispEdges" fill="#000">
<rect x="2" y="2" width="1098" height="1"/>
<rect x="2" y="2" width="1" height="502"/>
<rect x="2" y="503" width="1098" height="1"/>
<rect x="1099" y="2" width="1" height="726"/>
<rect x="2" y="505" width="1098" height="1"/>
<rect x="2" y="505" width="1" height="109"/>
<rect x="2" y="613" width="1098" height="1"/>
<rect x="2" y="615" width="1098" height="1"/>
<rect x="2" y="615" width="1" height="113"/>
<rect x="2" y="727" width="1098" height="1"/>
<rect x="1100" y="5" width="2" height="1"/>
<rect x="1100" y="38" width="2" height="1"/>
<rect x="1100" y="71" width="2" height="1"/>
<rect x="1100" y="104" width="2" height="1"/>
<rect x="1100" y="137" width="2" height="1"/>
<rect x="1100" y="170" width="2" height="1"/>
<rect x="1100" y="203" width="2" height="1"/>
<rect x="1100" y="236" width="2" height="1"/>
<rect x="1100" y="269" width="2" height="1"/>
<rect x="1100" y="302" width="2" height="1"/>
<rect x="1100" y="335" width="2" height="1"/>
<rect x="1100" y="368" width="2" height="1"/>
<rect x="1100" y="401" width="2" height="1"/>
<rect x="1100" y="434" width="2" height="1"/>
<rect x="1100" y="467" width="2" height="1"/>
<rect x="1100" y="500" width="2" height="1"/>
<rect x="1100" y="507" width="2" height="1"/>
<rect x="1100" y="612" width="2" height="1"/>
<rect x="1100" y="617" width="2" height="1"/>
<rect x="1100" y="664" width="2" height="1"/>
<rect x="1100" y="726" width="2" height="1"/>
<rect x="3" y="728" width="1" height="3"/>
<rect x="67" y="728" width="1" height="3"/>
<rect x="131" y="728" width="1" height="3"/>
<rect x="195" y="728" width="1" height="3"/>
<rect x="259" y="728" width="1" height="3"/>
<rect x="323" y="728" width="1" height="3"/>
<rect x="387" y="728" width="1" height="3"/>
<rect x="451" y="728" width="1" height="3"/>
<rect x="515" y="728" width="1" height="3"/>
<rect x="579" y="728" width="1" height="3"/>
<rect x="643" y="728" width="1" height="3"/>
<rect x="707" y="728" width="1" height="3"/>
<rect x="771" y="728" width="1" height="3"/>
<rect x="835" y="728" width="1" height="3"/>
<rect x="899" y="728" width="1" height="3"/>
<rect x="963" y="728" width="1" height="3"/>
<rect x="1101" y="410" width="41" height="11"/>
</g>
<text transform="translate(1105.2 8) scale(1 1) rotate(0.03)" textLength="32.5">1382.70</text>
<text transform="translate(1105.2 41) scale(1 1) rotate(0.03)" textLength="32.5">1368.70</text>
<text transform="translate(1105.2 74) scale(1 1) rotate(0.03)" textLength="32.5">1354.70</text>
<text transform="translate(1105.2 107) scale(1 1) rotate(0.03)" textLength="32.5">1340.30</text>
<text transform="translate(1105.2 140) scale(1 1) rotate(0.03)" textLength="32.5">1326.30</text>
<text transform="translate(1105.2 173) scale(1 1) rotate(0.03)" textLength="32.5">1311.90</text>
<text transform="translate(1105.2 206) scale(1 1) rotate(0.03)" textLength="32.5">1297.90</text>
<text transform="translate(1105.2 239) scale(1 1) rotate(0.03)" textLength="32.5">1283.90</text>
<text transform="translate(1105.2 272) scale(1 1) rotate(0.03)" textLength="32.5">1269.50</text>
<text transform="translate(1105.2 305) scale(1 1) rotate(0.03)" textLength="32.5">1255.50</text>
<text transform="translate(1105.2 338) scale(1 1) rotate(0.03)" textLength="32.5">1241.50</text>
<text transform="translate(1105.2 371) scale(1 1) rotate(0.03)" textLength="32.5">1227.10</text>
<text transform="translate(1105.2 404) scale(1 1) rotate(0.03)" textLength="32.5">1213.10</text>
<text transform="translate(1105.2 437) scale(1 1) rotate(0.03)" textLength="32.5">1198.70</text>
<text transform="translate(1105.2 470) scale(1 1) rotate(0.03)" textLength="32.5">1184.70</text>
<text transform="translate(1105.2 503) scale(1 1) rotate(0.03)" textLength="32.5">1170.70</text>
<text transform="translate(1105.2 419) scale(1 1) rotate(0.03)" textLength="32.5" fill="#fff" stroke="#fff" stroke-width=".35">1206.65</text>
<g shape-rendering="crispEdges">
<path d="M403 534.5h5M331 535.5h5M401 535.5h2M408 535.5h4M329 536.5h2M336 536.5h5M400 536.5h1M412 536.5h2M328 537.5h1M341 537.5h2M398 537.5h2M414 537.5h1M259 538.5h13M280 538.5h6M304 538.5h6M326 538.5h2M343 538.5h2M396 538.5h2M415 538.5h1M258 539.5h1M272 539.5h8M286 539.5h4M296 539.5h8M310 539.5h4M324 539.5h2M345 539.5h2M394 539.5h2M416 539.5h2M258 540.5h1M290 540.5h6M314 540.5h10M347 540.5h2M392 540.5h2M418 540.5h1M257 541.5h1M349 541.5h3M389 541.5h3M419 541.5h1M257 542.5h1M352 542.5h2M387 542.5h2M419 542.5h1M256 543.5h1M354 543.5h6M385 543.5h2M420 543.5h1M256 544.5h1M360 544.5h5M383 544.5h2M420 544.5h1M255 545.5h1M365 545.5h3M381 545.5h2M420 545.5h1M255 546.5h1M368 546.5h2M376 546.5h5M421 546.5h1M254 547.5h1M370 547.5h6M421 547.5h1M254 548.5h1M422 548.5h1M253 549.5h1M422 549.5h1M226 550.5h2M253 550.5h1M422 550.5h1M224 551.5h2M228 551.5h1M252 551.5h1M423 551.5h1M595 551.5h2M221 552.5h3M228 552.5h1M252 552.5h1M423 552.5h1M593 552.5h2M597 552.5h2M218 553.5h3M229 553.5h1M251 553.5h1M423 553.5h1M592 553.5h1M599 553.5h2M634 553.5h4M216 554.5h2M230 554.5h1M251 554.5h1M424 554.5h1M590 554.5h2M601 554.5h2M632 554.5h2M638 554.5h4M11 555.5h2M213 555.5h3M231 555.5h1M250 555.5h1M424 555.5h1M588 555.5h2M603 555.5h3M629 555.5h3M642 555.5h2M10 556.5h1M13 556.5h2M211 556.5h2M231 556.5h1M249 556.5h1M424 556.5h1M587 556.5h1M606 556.5h4M626 556.5h3M644 556.5h2M8 557.5h2M15 557.5h2M210 557.5h1M232 557.5h1M248 557.5h1M425 557.5h1M451 557.5h2M586 557.5h1M610 557.5h6M622 557.5h4M646 557.5h2M7 558.5h1M17 558.5h2M210 558.5h1M233 558.5h1M246 558.5h2M425 558.5h1M450 558.5h1M453 558.5h3M586 558.5h1M616 558.5h6M648 558.5h1M6 559.5h1M19 559.5h2M209 559.5h1M234 559.5h1M245 559.5h1M426 559.5h1M449 559.5h1M456 559.5h2M472 559.5h5M585 559.5h1M649 559.5h2M4 560.5h2M21 560.5h2M208 560.5h1M234 560.5h1M244 560.5h1M426 560.5h1M448 560.5h1M458 560.5h14M477 560.5h3M507 560.5h5M584 560.5h1M651 560.5h2M3 561.5h1M23 561.5h2M50 561.5h3M66 561.5h4M207 561.5h1M235 561.5h9M426 561.5h1M446 561.5h2M480 561.5h2M506 561.5h1M512 561.5h13M584 561.5h1M653 561.5h3M25 562.5h2M32 562.5h8M46 562.5h4M53 562.5h3M64 562.5h2M70 562.5h4M80 562.5h6M207 562.5h1M427 562.5h1M445 562.5h1M482 562.5h2M506 562.5h1M525 562.5h2M583 562.5h1M656 562.5h2M27 563.5h5M40 563.5h6M56 563.5h2M61 563.5h3M74 563.5h6M86 563.5h4M206 563.5h1M427 563.5h1M444 563.5h1M484 563.5h2M505 563.5h1M527 563.5h2M582 563.5h1M658 563.5h11M58 564.5h3M90 564.5h2M205 564.5h1M428 564.5h2M443 564.5h1M486 564.5h1M504 564.5h1M529 564.5h2M582 564.5h1M669 564.5h2M739 564.5h3M91 565.5h1M204 565.5h1M430 565.5h1M441 565.5h2M487 565.5h1M503 565.5h1M531 565.5h2M581 565.5h1M671 565.5h2M737 565.5h2M742 565.5h4M92 566.5h1M195 566.5h5M204 566.5h1M431 566.5h1M440 566.5h1M488 566.5h2M503 566.5h1M533 566.5h3M555 566.5h5M580 566.5h1M673 566.5h2M735 566.5h2M746 566.5h10M92 567.5h1M194 567.5h1M200 567.5h4M432 567.5h2M438 567.5h2M490 567.5h1M502 567.5h1M536 567.5h2M554 567.5h1M560 567.5h6M580 567.5h1M675 567.5h1M733 567.5h2M756 567.5h2M93 568.5h1M193 568.5h1M434 568.5h1M436 568.5h2M491 568.5h2M501 568.5h1M538 568.5h2M553 568.5h1M566 568.5h4M576 568.5h4M676 568.5h2M730 568.5h3M758 568.5h2M93 569.5h1M192 569.5h1M435 569.5h1M493 569.5h3M500 569.5h1M540 569.5h2M552 569.5h1M570 569.5h6M678 569.5h2M726 569.5h4M760 569.5h1M94 570.5h1M191 570.5h1M496 570.5h2M500 570.5h1M542 570.5h2M550 570.5h2M680 570.5h1M723 570.5h3M761 570.5h2M94 571.5h1M190 571.5h1M498 571.5h2M544 571.5h1M549 571.5h1M681 571.5h2M721 571.5h2M763 571.5h1M802 571.5h2M95 572.5h1M189 572.5h1M545 572.5h2M548 572.5h1M683 572.5h2M720 572.5h1M764 572.5h1M798 572.5h4M804 572.5h1M95 573.5h1M188 573.5h1M547 573.5h1M685 573.5h2M718 573.5h2M765 573.5h1M779 573.5h1M795 573.5h3M805 573.5h1M931 573.5h2M96 574.5h1M186 574.5h2M687 574.5h2M716 574.5h2M766 574.5h1M778 574.5h1M780 574.5h2M793 574.5h2M806 574.5h1M930 574.5h1M933 574.5h3M96 575.5h1M182 575.5h4M689 575.5h2M696 575.5h8M712 575.5h4M767 575.5h1M777 575.5h1M782 575.5h2M792 575.5h1M807 575.5h1M929 575.5h1M936 575.5h2M944 575.5h12M97 576.5h1M163 576.5h19M691 576.5h5M704 576.5h8M767 576.5h1M776 576.5h1M784 576.5h1M790 576.5h2M808 576.5h1M928 576.5h1M938 576.5h6M956 576.5h2M97 577.5h1M162 577.5h1M768 577.5h1M774 577.5h2M785 577.5h2M788 577.5h2M809 577.5h1M818 577.5h3M915 577.5h2M927 577.5h1M958 577.5h1M98 578.5h1M161 578.5h1M769 578.5h1M773 578.5h1M787 578.5h1M810 578.5h1M814 578.5h4M821 578.5h2M913 578.5h2M917 578.5h2M926 578.5h1M959 578.5h1M98 579.5h1M161 579.5h1M770 579.5h1M772 579.5h1M811 579.5h3M823 579.5h2M912 579.5h1M919 579.5h2M925 579.5h1M960 579.5h2M99 580.5h1M160 580.5h1M771 580.5h1M825 580.5h2M910 580.5h2M921 580.5h2M924 580.5h1M962 580.5h1M968 580.5h4M99 581.5h5M159 581.5h1M827 581.5h1M858 581.5h10M883 581.5h2M908 581.5h2M923 581.5h1M963 581.5h5M104 582.5h8M158 582.5h1M828 582.5h2M856 582.5h2M868 582.5h2M881 582.5h2M885 582.5h2M907 582.5h1M112 583.5h5M157 583.5h1M830 583.5h2M853 583.5h3M870 583.5h2M880 583.5h1M887 583.5h2M905 583.5h2M117 584.5h3M157 584.5h1M832 584.5h1M850 584.5h3M872 584.5h1M878 584.5h2M889 584.5h2M904 584.5h1M120 585.5h2M156 585.5h1M833 585.5h2M848 585.5h2M873 585.5h2M876 585.5h2M891 585.5h3M902 585.5h2M122 586.5h6M146 586.5h10M835 586.5h5M845 586.5h3M875 586.5h1M894 586.5h4M900 586.5h2M128 587.5h8M142 587.5h4M840 587.5h5M898 587.5h2M136 588.5h6" stroke="#00008b" stroke-width="1" fill="none"/>
<line x1="4" x2="1099" y1="538.5" y2="538.5" stroke="#c0c0c0" stroke-dasharray="3 3"/>
<line x1="4" x2="1099" y1="581.5" y2="581.5" stroke="#c0c0c0" stroke-dasharray="3 3"/>
</g>
<text transform="translate(1102.3 516) scale(1 1) rotate(0.03)" textLength="15.2">100</text>
<text transform="translate(1102.3 541) scale(1 1) rotate(0.03)" textLength="10.1">70</text>
<text transform="translate(1102 584) scale(1 1) rotate(0.03)" textLength="10.1">30</text>
<text transform="translate(1102.8 610) scale(1 1) rotate(0.03)" textLength="5.1">0</text>
<text transform="translate(7.1 518) scale(1 1) rotate(0.03)" textLength="68.5">RSI(14) 30.5189</text>
<g shape-rendering="crispEdges">
<rect x="3" y="664" width="1" height="1" fill="#000080"/>
<rect x="11" y="662" width="1" height="3" fill="#000080"/>
<rect x="19" y="662" width="1" height="3" fill="#000080"/>
<rect x="27" y="663" width="1" height="2" fill="#000080"/>
<rect x="35" y="664" width="1" height="1" fill="#000080"/>
<rect x="43" y="664" width="1" height="1" fill="#000080"/>
<rect x="51" y="664" width="1" height="1" fill="#000080"/>
<rect x="99" y="664" width="1" height="6" fill="#000080"/>
<rect x="107" y="664" width="1" height="11" fill="#000080"/>
<rect x="115" y="664" width="1" height="13" fill="#000080"/>
<rect x="123" y="664" width="1" height="15" fill="#000080"/>
<rect x="131" y="664" width="1" height="16" fill="#000080"/>
<rect x="139" y="664" width="1" height="16" fill="#000080"/>
<rect x="147" y="664" width="1" height="16" fill="#000080"/>
<rect x="155" y="664" width="1" height="14" fill="#000080"/>
<rect x="163" y="664" width="1" height="10" fill="#000080"/>
<rect x="171" y="664" width="1" height="7" fill="#000080"/>
<rect x="179" y="664" width="1" height="4" fill="#000080"/>
<rect x="187" y="664" width="1" height="2" fill="#000080"/>
<rect x="195" y="663" width="1" height="2" fill="#000080"/>
<rect x="203" y="661" width="1" height="4" fill="#000080"/>
<rect x="211" y="657" width="1" height="8" fill="#000080"/>
<rect x="219" y="654" width="1" height="11" fill="#000080"/>
<rect x="227" y="652" width="1" height="13" fill="#000080"/>
<rect x="235" y="653" width="1" height="12" fill="#000080"/>
<rect x="243" y="655" width="1" height="10" fill="#000080"/>
<rect x="251" y="654" width="1" height="11" fill="#000080"/>
<rect x="259" y="647" width="1" height="18" fill="#000080"/>
<rect x="267" y="642" width="1" height="23" fill="#000080"/>
<rect x="275" y="643" width="1" height="22" fill="#000080"/>
<rect x="283" y="642" width="1" height="23" fill="#000080"/>
<rect x="291" y="644" width="1" height="21" fill="#000080"/>
<rect x="299" y="645" width="1" height="20" fill="#000080"/>
<rect x="307" y="647" width="1" height="18" fill="#000080"/>
<rect x="315" y="649" width="1" height="16" fill="#000080"/>
<rect x="323" y="653" width="1" height="12" fill="#000080"/>
<rect x="331" y="653" width="1" height="12" fill="#000080"/>
<rect x="339" y="654" width="1" height="11" fill="#000080"/>
<rect x="347" y="656" width="1" height="9" fill="#000080"/>
<rect x="355" y="660" width="1" height="5" fill="#000080"/>
<rect x="363" y="662" width="1" height="3" fill="#000080"/>
<rect x="379" y="664" width="1" height="2" fill="#000080"/>
<rect x="387" y="664" width="1" height="2" fill="#000080"/>
<rect x="395" y="664" width="1" height="1" fill="#000080"/>
<rect x="403" y="664" width="1" height="1" fill="#000080"/>
<rect x="411" y="663" width="1" height="2" fill="#000080"/>
<rect x="419" y="664" width="1" height="1" fill="#000080"/>
<rect x="427" y="664" width="1" height="5" fill="#000080"/>
<rect x="435" y="664" width="1" height="12" fill="#000080"/>
<rect x="443" y="664" width="1" height="14" fill="#000080"/>
<rect x="451" y="664" width="1" height="12" fill="#000080"/>
<rect x="459" y="664" width="1" height="12" fill="#000080"/>
<rect x="467" y="664" width="1" height="11" fill="#000080"/>
<rect x="475" y="664" width="1" height="10" fill="#000080"/>
<rect x="483" y="664" width="1" height="10" fill="#000080"/>
<rect x="491" y="664" width="1" height="12" fill="#000080"/>
<rect x="499" y="664" width="1" height="14" fill="#000080"/>
<rect x="507" y="664" width="1" height="11" fill="#000080"/>
<rect x="515" y="664" width="1" height="9" fill="#000080"/>
<rect x="523" y="664" width="1" height="7" fill="#000080"/>
<rect x="531" y="664" width="1" height="7" fill="#000080"/>
<rect x="539" y="664" width="1" height="8" fill="#000080"/>
<rect x="547" y="664" width="1" height="10" fill="#000080"/>
<rect x="555" y="664" width="1" height="9" fill="#000080"/>
<rect x="563" y="664" width="1" height="8" fill="#000080"/>
<rect x="571" y="664" width="1" height="8" fill="#000080"/>
<rect x="579" y="664" width="1" height="7" fill="#000080"/>
<rect x="587" y="664" width="1" height="2" fill="#000080"/>
<rect x="595" y="662" width="1" height="3" fill="#000080"/>
<rect x="603" y="660" width="1" height="5" fill="#000080"/>
<rect x="611" y="660" width="1" height="5" fill="#000080"/>
<rect x="619" y="661" width="1" height="4" fill="#000080"/>
<rect x="627" y="660" width="1" height="5" fill="#000080"/>
<rect x="635" y="659" width="1" height="6" fill="#000080"/>
<rect x="643" y="660" width="1" height="5" fill="#000080"/>
<rect x="651" y="661" width="1" height="4" fill="#000080"/>
<rect x="659" y="663" width="1" height="2" fill="#000080"/>
<rect x="667" y="664" width="1" height="2" fill="#000080"/>
<rect x="675" y="664" width="1" height="3" fill="#000080"/>
<rect x="683" y="664" width="1" height="5" fill="#000080"/>
<rect x="691" y="664" width="1" height="8" fill="#000080"/>
<rect x="699" y="664" width="1" height="9" fill="#000080"/>
<rect x="707" y="664" width="1" height="10" fill="#000080"/>
<rect x="715" y="664" width="1" height="10" fill="#000080"/>
<rect x="723" y="664" width="1" height="8" fill="#000080"/>
<rect x="731" y="664" width="1" height="6" fill="#000080"/>
<rect x="739" y="664" width="1" height="3" fill="#000080"/>
<rect x="747" y="664" width="1" height="2" fill="#000080"/>
<rect x="755" y="664" width="1" height="1" fill="#000080"/>
<rect x="763" y="664" width="1" height="3" fill="#000080"/>
<rect x="771" y="664" width="1" height="5" fill="#000080"/>
<rect x="779" y="664" width="1" height="5" fill="#000080"/>
<rect x="787" y="664" width="1" height="7" fill="#000080"/>
<rect x="795" y="664" width="1" height="6" fill="#000080"/>
<rect x="803" y="664" width="1" height="5" fill="#000080"/>
<rect x="811" y="664" width="1" height="7" fill="#000080"/>
<rect x="819" y="664" width="1" height="7" fill="#000080"/>
<rect x="827" y="664" width="1" height="8" fill="#000080"/>
<rect x="835" y="664" width="1" height="11" fill="#000080"/>
<rect x="843" y="664" width="1" height="13" fill="#000080"/>
<rect x="851" y="664" width="1" height="13" fill="#000080"/>
<rect x="859" y="664" width="1" height="11" fill="#000080"/>
<rect x="867" y="664" width="1" height="9" fill="#000080"/>
<rect x="875" y="664" width="1" height="10" fill="#000080"/>
<rect x="883" y="664" width="1" height="8" fill="#000080"/>
<rect x="891" y="664" width="1" height="8" fill="#000080"/>
<rect x="899" y="664" width="1" height="9" fill="#000080"/>
<rect x="907" y="664" width="1" height="7" fill="#000080"/>
<rect x="915" y="664" width="1" height="4" fill="#000080"/>
<rect x="923" y="664" width="1" height="3" fill="#000080"/>
<rect x="939" y="664" width="1" height="1" fill="#000080"/>
<rect x="947" y="663" width="1" height="2" fill="#000080"/>
<rect x="955" y="662" width="1" height="3" fill="#000080"/>
<rect x="963" y="664" width="1" height="1" fill="#000080"/>
<rect x="971" y="664" width="1" height="1" fill="#000080"/>
<path d="M336 621.5h8M331 622.5h5M344 622.5h8M329 623.5h2M352 623.5h6M327 624.5h2M358 624.5h4M325 625.5h2M362 625.5h4M312 626.5h13M366 626.5h4M408 626.5h12M306 627.5h6M370 627.5h3M402 627.5h6M420 627.5h1M304 628.5h2M373 628.5h3M398 628.5h4M421 628.5h1M301 629.5h3M376 629.5h2M392 629.5h6M422 629.5h1M298 630.5h3M378 630.5h14M423 630.5h1M296 631.5h2M423 631.5h1M293 632.5h3M424 632.5h1M290 633.5h3M425 633.5h1M288 634.5h2M426 634.5h1M285 635.5h3M427 635.5h1M283 636.5h2M428 636.5h1M282 637.5h1M429 637.5h1M280 638.5h2M430 638.5h1M279 639.5h1M431 639.5h1M278 640.5h1M432 640.5h1M276 641.5h2M433 641.5h1M275 642.5h1M434 642.5h1M274 643.5h1M435 643.5h1M273 644.5h1M436 644.5h2M272 645.5h1M438 645.5h2M270 646.5h2M440 646.5h1M269 647.5h1M441 647.5h2M268 648.5h1M443 648.5h3M267 649.5h1M446 649.5h4M266 650.5h1M450 650.5h4M266 651.5h1M454 651.5h4M265 652.5h1M458 652.5h4M264 653.5h1M462 653.5h4M263 654.5h1M466 654.5h4M263 655.5h1M470 655.5h4M262 656.5h1M474 656.5h4M261 657.5h1M478 657.5h4M260 658.5h1M482 658.5h3M260 659.5h1M485 659.5h3M259 660.5h1M488 660.5h2M642 660.5h6M258 661.5h1M490 661.5h2M638 661.5h4M648 661.5h6M258 662.5h1M492 662.5h2M632 662.5h6M654 662.5h4M257 663.5h1M494 663.5h1M626 663.5h6M658 663.5h6M256 664.5h1M495 664.5h1M624 664.5h2M664 664.5h5M255 665.5h1M496 665.5h2M621 665.5h3M669 665.5h3M255 666.5h1M498 666.5h1M616 666.5h5M672 666.5h2M254 667.5h1M499 667.5h13M608 667.5h8M674 667.5h3M253 668.5h1M512 668.5h14M602 668.5h6M677 668.5h2M252 669.5h1M526 669.5h4M600 669.5h2M679 669.5h2M10 670.5h82M252 670.5h1M530 670.5h4M597 670.5h3M681 670.5h2M8 671.5h2M92 671.5h1M251 671.5h1M534 671.5h4M595 671.5h2M683 671.5h1M5 672.5h3M93 672.5h1M249 672.5h2M538 672.5h3M593 672.5h2M684 672.5h2M3 673.5h2M94 673.5h2M247 673.5h2M541 673.5h2M592 673.5h1M686 673.5h2M96 674.5h1M245 674.5h2M543 674.5h2M590 674.5h2M688 674.5h1M97 675.5h1M240 675.5h5M545 675.5h2M588 675.5h2M689 675.5h2M98 676.5h1M232 676.5h8M547 676.5h3M587 676.5h1M691 676.5h2M99 677.5h1M227 677.5h5M550 677.5h4M585 677.5h2M693 677.5h3M100 678.5h1M226 678.5h1M554 678.5h6M584 678.5h1M696 678.5h2M101 679.5h1M224 679.5h2M560 679.5h8M582 679.5h2M698 679.5h3M102 680.5h2M223 680.5h1M568 680.5h8M580 680.5h2M701 680.5h3M746 680.5h14M104 681.5h1M222 681.5h1M576 681.5h4M704 681.5h2M742 681.5h4M760 681.5h5M105 682.5h1M220 682.5h2M706 682.5h4M738 682.5h4M765 682.5h2M106 683.5h1M219 683.5h1M710 683.5h4M734 683.5h4M767 683.5h2M107 684.5h1M218 684.5h1M714 684.5h20M769 684.5h2M108 685.5h2M216 685.5h2M771 685.5h5M110 686.5h1M215 686.5h1M776 686.5h5M111 687.5h1M214 687.5h1M781 687.5h2M112 688.5h2M212 688.5h2M783 688.5h2M114 689.5h1M211 689.5h1M785 689.5h2M115 690.5h1M210 690.5h1M787 690.5h5M800 690.5h5M116 691.5h2M208 691.5h2M792 691.5h8M805 691.5h2M118 692.5h2M207 692.5h1M807 692.5h2M120 693.5h1M206 693.5h1M809 693.5h2M121 694.5h2M204 694.5h2M811 694.5h3M123 695.5h1M203 695.5h1M814 695.5h4M124 696.5h2M201 696.5h2M818 696.5h3M126 697.5h2M199 697.5h2M821 697.5h3M128 698.5h1M197 698.5h2M824 698.5h2M129 699.5h2M195 699.5h2M826 699.5h2M131 700.5h1M193 700.5h2M828 700.5h2M132 701.5h2M191 701.5h2M830 701.5h1M134 702.5h2M189 702.5h2M831 702.5h1M136 703.5h1M186 703.5h3M832 703.5h2M137 704.5h2M182 704.5h4M834 704.5h1M139 705.5h3M176 705.5h6M835 705.5h1M142 706.5h4M170 706.5h6M836 706.5h2M146 707.5h4M166 707.5h4M838 707.5h2M150 708.5h4M160 708.5h6M840 708.5h1M154 709.5h6M841 709.5h2M843 710.5h2M845 711.5h3M848 712.5h2M952 712.5h8M850 713.5h19M946 713.5h6M960 713.5h12M869 714.5h3M942 714.5h4M872 715.5h2M938 715.5h4M874 716.5h6M934 716.5h4M880 717.5h6M930 717.5h4M886 718.5h4M926 718.5h4M890 719.5h4M914 719.5h12M894 720.5h4M910 720.5h4M898 721.5h12" stroke="#007000" stroke-width="1" fill="none"/>
<path d="M363 628.5h3M369 628.5h3M375 628.5h3M381 628.5h3M400 628.5h2M405 628.5h3M411 628.5h3M417 628.5h3M423 628.5h1M352 629.5h2M357 629.5h3M387 629.5h3M393 629.5h3M399 629.5h1M424 629.5h2M429 629.5h1M346 630.5h2M351 630.5h1M430 630.5h2M345 631.5h1M435 631.5h2M341 632.5h1M437 632.5h1M339 633.5h2M334 634.5h2M441 634.5h2M333 635.5h1M443 635.5h1M328 636.5h2M447 636.5h1M327 637.5h1M448 637.5h2M323 638.5h1M321 639.5h2M453 639.5h3M317 641.5h1M459 641.5h3M315 642.5h2M465 642.5h1M466 643.5h2M311 644.5h1M471 644.5h1M309 645.5h2M472 645.5h2M477 646.5h1M305 647.5h1M478 647.5h2M303 648.5h2M483 648.5h2M485 649.5h1M299 650.5h1M489 650.5h1M297 651.5h2M490 651.5h2M495 652.5h1M293 653.5h1M496 653.5h2M291 654.5h2M501 654.5h1M502 655.5h2M507 656.5h2M287 657.5h1M509 657.5h1M286 658.5h1M513 658.5h1M285 659.5h1M514 659.5h2M519 660.5h3M525 661.5h1M280 662.5h2M526 662.5h2M279 663.5h1M531 663.5h3M537 664.5h1M538 665.5h2M645 665.5h3M651 665.5h3M657 665.5h3M663 665.5h3M669 665.5h3M675 665.5h3M275 666.5h1M543 666.5h3M640 666.5h2M681 666.5h3M274 667.5h1M549 667.5h1M639 667.5h1M687 667.5h3M273 668.5h1M550 668.5h2M633 668.5h3M693 668.5h1M555 669.5h3M627 669.5h3M694 669.5h2M57 670.5h3M63 670.5h3M69 670.5h3M75 670.5h3M81 670.5h3M87 670.5h3M93 670.5h1M561 670.5h1M621 670.5h3M699 670.5h2M33 671.5h3M39 671.5h3M45 671.5h3M51 671.5h3M94 671.5h2M268 671.5h2M562 671.5h2M567 671.5h1M615 671.5h3M701 671.5h1M27 672.5h3M99 672.5h3M267 672.5h1M568 672.5h2M573 672.5h1M603 672.5h3M609 672.5h3M705 672.5h1M3 673.5h3M9 673.5h3M15 673.5h3M21 673.5h3M105 673.5h1M574 673.5h2M598 673.5h2M706 673.5h2M711 673.5h1M106 674.5h2M579 674.5h3M592 674.5h2M597 674.5h1M712 674.5h2M717 674.5h1M111 675.5h3M263 675.5h1M585 675.5h3M591 675.5h1M718 675.5h2M262 676.5h1M723 676.5h3M117 677.5h1M261 677.5h1M729 677.5h1M118 678.5h2M730 678.5h2M735 678.5h1M257 679.5h1M736 679.5h2M741 679.5h3M747 679.5h3M256 680.5h1M753 680.5h3M759 680.5h3M765 680.5h3M123 681.5h2M255 681.5h1M771 681.5h3M125 682.5h1M777 682.5h3M783 682.5h1M250 683.5h2M784 683.5h2M789 683.5h1M129 684.5h2M249 684.5h1M790 684.5h2M131 685.5h1M243 685.5h3M795 685.5h3M801 686.5h3M807 686.5h1M135 687.5h2M237 687.5h3M808 687.5h2M813 687.5h1M137 688.5h1M814 688.5h2M231 689.5h3M819 689.5h3M141 690.5h2M227 690.5h1M825 690.5h1M143 691.5h1M225 691.5h2M826 691.5h2M831 692.5h1M147 693.5h2M221 693.5h1M832 693.5h2M149 694.5h1M219 694.5h2M153 695.5h1M837 695.5h3M154 696.5h2M159 696.5h1M215 696.5h1M160 697.5h2M213 697.5h2M843 697.5h2M165 698.5h3M845 698.5h1M207 699.5h3M849 699.5h1M171 700.5h3M201 700.5h3M850 700.5h2M177 701.5h3M183 701.5h3M189 701.5h3M195 701.5h3M855 701.5h1M856 702.5h2M861 703.5h1M862 704.5h2M867 705.5h3M873 706.5h1M874 707.5h2M879 708.5h3M885 709.5h3M891 710.5h2M893 711.5h1M897 712.5h1M898 713.5h2M903 713.5h1M963 713.5h3M904 714.5h2M909 714.5h1M958 714.5h2M969 714.5h3M910 715.5h2M945 715.5h3M951 715.5h3M957 715.5h1M915 716.5h3M921 716.5h3M927 716.5h3M933 716.5h3M939 716.5h3" stroke="#ff0000" stroke-width="1" fill="none"/>
</g>
<text transform="translate(1103.3 626) scale(1 1) rotate(0.03)" textLength="27.8">15.092</text>
<text transform="translate(1103.3 667) scale(1 1) rotate(0.03)" textLength="17.7">0.00</text>
<text transform="translate(1103.3 724) scale(1 1) rotate(0.03)" textLength="30.8">-19.546</text>
<text transform="translate(7.2 628) scale(1 1) rotate(0.03)" textLength="160">MACD(12,26,9) -15.168 -15.623 0.455</text>
<text transform="translate(2.5 740) scale(1 1) rotate(0.03)" textLength="54.3">13 May 2014</text>
<text transform="translate(66.5 740) scale(1 1) rotate(0.03)" textLength="54.6">22 May 2014</text>
<text transform="translate(130.5 740) scale(1 1) rotate(0.03)" textLength="44.4">1 Jun 2014</text>
<text transform="translate(194.5 740) scale(1 1) rotate(0.03)" textLength="49.3">10 Jun 2014</text>
<text transform="translate(258.5 740) scale(1 1) rotate(0.03)" textLength="49.5">19 Jun 2014</text>
<text transform="translate(322.5 740) scale(1 1) rotate(0.03)" textLength="49.5">29 Jun 2014</text>
<text transform="translate(386.5 740) scale(1 1) rotate(0.03)" textLength="42.2">8 Jul 2014</text>
<text transform="translate(450.5 740) scale(1 1) rotate(0.03)" textLength="46.6">17 Jul 2014</text>
<text transform="translate(514.5 740) scale(1 1) rotate(0.03)" textLength="46.6">27 Jul 2014</text>
<text transform="translate(578.5 740) scale(1 1) rotate(0.03)" textLength="47.3">5 Aug 2014</text>
<text transform="translate(642.5 740) scale(1 1) rotate(0.03)" textLength="52.7">14 Aug 2014</text>
<text transform="translate(706.5 740) scale(1 1) rotate(0.03)" textLength="52.9">24 Aug 2014</text>
<text transform="translate(770.5 740) scale(1 1) rotate(0.03)" textLength="46.5">2 Sep 2014</text>
<text transform="translate(834.5 740) scale(1 1) rotate(0.03)" textLength="51.5">11 Sep 2014</text>
<text transform="translate(898.5 740) scale(1 1) rotate(0.03)" textLength="51.4">21 Sep 2014</text>
<text transform="translate(962.5 740) scale(1 1) rotate(0.03)" textLength="51.6">30 Sep 2014</text>
<path d="M6 9h7l-3.5 4z" fill="#000"/>
<text transform="translate(18 14) scale(1 1) rotate(0.03)" textLength="43">Gold,Daily</text>
<text transform="translate(68 14) scale(1 1) rotate(0.03)" textLength="140.5">1206.19 1207.25 1205.52 1206.65</text>
</svg></body></html>
